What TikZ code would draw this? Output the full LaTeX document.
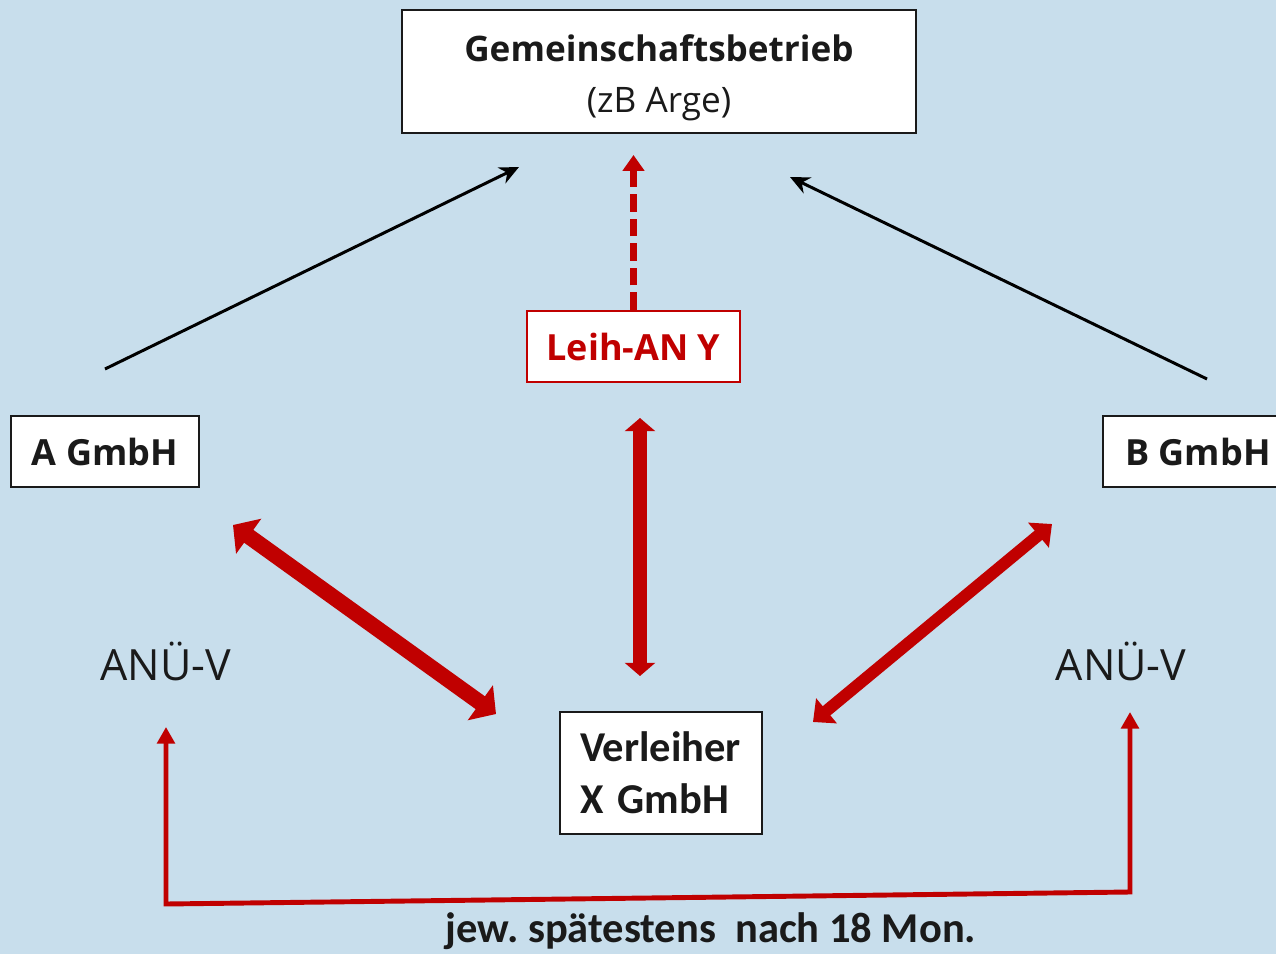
\documentclass[tikz,border=0pt]{standalone}
\usepackage{fontspec}
\setmainfont{Open Sans}
\newfontfamily\calfont{Carlito}
\usetikzlibrary{arrows.meta}
\definecolor{bgblue}{RGB}{200,222,236}
\definecolor{darkred}{RGB}{192,0,0}
\definecolor{ink}{RGB}{26,26,26}
\frenchspacing
\tikzset{
  box/.style={draw=ink, line width=1.2pt, fill=white, text=ink, inner sep=0pt},
  redbox/.style={draw=darkred, line width=1.2pt, fill=white, text=darkred, inner sep=0pt},
  bigfont/.style={font=\fontsize{20}{29}\selectfont},
  boldfont/.style={font=\fontsize{20.5}{29}\selectfont\bfseries},
  calbig/.style={font=\calfont\bfseries\fontsize{24.2}{29.5}\selectfont},
  linkarrow/.style={draw=black, line width=1.7pt, -{Stealth[length=11pt, width=10pt]}},
  redpull/.style={draw=darkred, line width=3.5pt, dash pattern=on 10pt off 4pt, -{Triangle[length=9pt, width=12pt]}},
  redline/.style={draw=darkred, line width=2.8pt, line join=miter, {Triangle[length=9.5pt, width=10pt]}-{Triangle[length=9.5pt, width=10pt]}}
}
\begin{document}
\begin{tikzpicture}[x=0.02cm, y=-0.02cm]
  \fill[bgblue] (0,0) rectangle (1276,954);
  \useasboundingbox (0,0) rectangle (1276,954);
  % boxes
  \node[box, bigfont, align=center, minimum width=10.28cm, minimum height=2.46cm] (gb) at (659,71.5)
    {\rule{0pt}{22pt}\textbf{Gemeinschaftsbetrieb}\\(zB Arge)};
  \node[redbox, boldfont, minimum width=4.26cm, minimum height=1.42cm] (leih) at (633.5,346.5) {Leih-AN Y};
  \node[box, boldfont, minimum width=3.76cm, minimum height=1.42cm] (agmbh) at (105,451.5) {A GmbH};
  \node[box, boldfont, minimum width=3.8cm, minimum height=1.42cm] (bgmbh) at (1198,451.5) {B GmbH};
  \node[box, calbig, align=left, text width=3.24cm, inner xsep=0.4cm, minimum height=2.44cm] (xgmbh) at (661,773) {Verleiher\\X GmbH};
  \node[text=ink, font=\fontsize{24.5}{29}\selectfont] (anuea) at (166,661) {ANÜ-V};
  \node[text=ink, font=\fontsize{24.5}{29}\selectfont] (anueb) at (1121,661) {ANÜ-V};
  \node[calbig, text=ink] (frist) at (711,931) {jew. spätestens\ \ nach 18 Mon.};
  % free ends
  \coordinate (a1) at (105,369);   \coordinate (a2) at (519,167);
  \coordinate (b1) at (1207,379);  \coordinate (b2) at (790,177);
  \coordinate (l1) at (633.5,155);
  \coordinate (p1) at (233,525);   \coordinate (p2) at (496,714);
  \coordinate (q1) at (1052,524);  \coordinate (q2) at (813,722);
  \coordinate (v1) at (640,418);   \coordinate (v2) at (640,676);
  \coordinate (w1) at (166,727);   \coordinate (w2) at (166,904);
  \coordinate (w3) at (1130,892);  \coordinate (w4) at (1130,712);
  % connectors
  \draw[linkarrow] (a1) -- (a2);
  \draw[linkarrow] (b1) -- (b2);
  \draw[redpull] (leih.north) -- (l1);
  \draw[draw=darkred, line width=9pt, {Triangle[length=11pt, width=24pt]}-{Triangle[length=11pt, width=24pt]}] (p1) -- (p2);
  \draw[draw=darkred, line width=6.8pt, {Triangle[length=10pt, width=18pt]}-{Triangle[length=10pt, width=18pt]}] (q1) -- (q2);
  \draw[draw=darkred, line width=8.5pt, {Triangle[length=7.5pt, width=17pt]}-{Triangle[length=7.5pt, width=17pt]}] (v1) -- (v2);
  \draw[redline] (w1) -- (w2) -- (w3) -- (w4);
\end{tikzpicture}
\end{document}
